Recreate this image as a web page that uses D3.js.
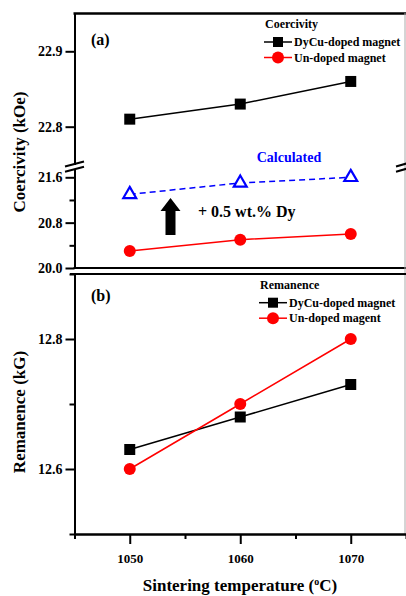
<!DOCTYPE html>
<html>
<head>
<meta charset="utf-8">
<script src="https://cdn.jsdelivr.net/npm/d3@7"></script>
<style>
  body { margin: 0; background: #fff; }
  svg { display: block; font-family: "Liberation Serif", "Times New Roman", serif; font-weight: bold; }
</style>
</head>
<body>
<svg id="canvas"></svg>
<script>
// sintering temperatures (oC)
const temps = [1050, 1060, 1070];

// coercivity (kOe)
const hcDoped = [22.81, 22.83, 22.86];
const hcUndoped = [20.3, 20.5, 20.6];
const hcCalc = [21.3, 21.5, 21.6];

// remanence (kG)
const brDoped = [12.63, 12.68, 12.73];
const brUndoped = [12.6, 12.7, 12.8];

// ticks
const xTicks = [1050, 1060, 1070];
const xMinor = [1045, 1055, 1065, 1075];
const hcTopTicks = [22.8, 22.9];
const hcLowTicks = [20.0, 20.8, 21.6];
const hcLowMinor = [20.4, 21.2];
const brTicks = [12.6, 12.8];
const brMinor = [12.5, 12.7, 12.9];

const legendA = ['DyCu-doped magnet', 'Un-doped magnet'];
const legendB = ['DyCu-doped magnet', 'Un-doped magent'];

const width = 406;
const height = 596;
const left = 74.5;

let canvas = d3.select('#canvas')
  .attr('width', width)
  .attr('height', height);

let xScale = d3.scaleLinear().domain([1045, 1075]).range([left, 406]);
// panel (a) uses a broken axis -> two scales
let yTop = d3.scaleLinear().domain([22.75, 22.95]).range([164.4, 13.6]);
let yLow = d3.scaleLinear().domain([20.0, 21.75]).range([268, 168.8]);
let yB = d3.scaleLinear().domain([12.5, 12.9]).range([534, 274]);

let styleAxis = (g, size) => {
  g.attr('font-family', null).attr('font-size', null);
  g.select('.domain').attr('stroke-width', 2);
  g.selectAll('.tick line').attr('stroke-width', 2);
  g.selectAll('.tick text')
    .attr('font-size', size)
    .attr('font-weight', 'bold')
    .attr('fill', '#000');
};

let drawLeftAxis = (scale, major, minor, fmt) => {
  let gMinor = canvas.append('g')
    .attr('transform', `translate(${left}, 0)`)
    .call(d3.axisLeft(scale).tickValues(minor).tickSize(5).tickSizeOuter(0).tickFormat(''));
  styleAxis(gMinor, 14);
  let gMajor = canvas.append('g')
    .attr('transform', `translate(${left}, 0)`)
    .call(d3.axisLeft(scale).tickValues(major).tickSize(9).tickPadding(3).tickSizeOuter(0).tickFormat(d3.format(fmt)));
  styleAxis(gMajor, 14);
};

let line = (ys, yScale) => d3.line()
  .x((d, i) => xScale(temps[i]))
  .y((d) => yScale(d))(ys);

let drawSquares = (ys, yScale) => {
  canvas.append('g').selectAll('path')
    .data(ys)
    .enter()
    .append('path')
    .attr('d', d3.symbol(d3.symbolSquare).size(121))
    .attr('transform', (d, i) => `translate(${xScale(temps[i])}, ${yScale(d)})`)
    .attr('fill', '#000');
};

let drawCircles = (ys, yScale) => {
  canvas.append('g').selectAll('circle')
    .data(ys)
    .enter()
    .append('circle')
    .attr('cx', (d, i) => xScale(temps[i]))
    .attr('cy', (d) => yScale(d))
    .attr('r', 6)
    .attr('fill', '#ff0000');
};

let drawLegend = (title, labels, x, y0) => {
  canvas.append('text')
    .attr('x', x + 1)
    .attr('y', y0 - 14)
    .attr('font-size', 12)
    .text(title);
  labels.forEach((label, i) => {
    let y = y0 + i * 15.5;
    let color = i === 0 ? '#000' : '#ff0000';
    canvas.append('line')
      .attr('x1', x).attr('x2', x + 28)
      .attr('y1', y).attr('y2', y)
      .attr('stroke', color)
      .attr('stroke-width', 1.5);
    if (i === 0) {
      canvas.append('path')
        .attr('d', d3.symbol(d3.symbolSquare).size(100))
        .attr('transform', `translate(${x + 14}, ${y})`)
        .attr('fill', '#000');
    } else {
      canvas.append('circle')
        .attr('cx', x + 14).attr('cy', y).attr('r', 6)
        .attr('fill', '#ff0000');
    }
    canvas.append('text')
      .attr('x', x + 30)
      .attr('y', y + 4)
      .attr('font-size', 12)
      .text(label);
  });
};

// ---------- panel (a) ----------
drawLeftAxis(yTop, hcTopTicks, [], '.1f');
drawLeftAxis(yLow, hcLowTicks, hcLowMinor, '.1f');

// frame lines
canvas.append('line')
  .attr('x1', left - 1).attr('x2', width)
  .attr('y1', yTop.range()[1]).attr('y2', yTop.range()[1])
  .attr('stroke', '#000').attr('stroke-width', 2.5);
canvas.append('line')
  .attr('x1', left - 1).attr('x2', width)
  .attr('y1', yLow(20.0)).attr('y2', yLow(20.0))
  .attr('stroke', '#000').attr('stroke-width', 2);
canvas.append('line')
  .attr('x1', 405).attr('x2', 405)
  .attr('y1', 13).attr('y2', 534)
  .attr('stroke', '#aaa').attr('stroke-width', 1);

// break marks
let breakY = (yTop.range()[0] + yLow.range()[1]) / 2;
[-2.6, 2.6].forEach((off) => {
  canvas.append('line')
    .attr('x1', 65).attr('x2', 84)
    .attr('y1', breakY + off + 2.5).attr('y2', breakY + off - 2.5)
    .attr('stroke', '#000').attr('stroke-width', 2);
  canvas.append('line')
    .attr('x1', 396).attr('x2', 410)
    .attr('y1', breakY + off + 2.5).attr('y2', breakY + off - 1.5)
    .attr('stroke', '#000').attr('stroke-width', 2);
});

canvas.append('path')
  .attr('d', line(hcDoped, yTop))
  .attr('fill', 'none').attr('stroke', '#000').attr('stroke-width', 1.5);
drawSquares(hcDoped, yTop);

canvas.append('path')
  .attr('d', line(hcUndoped, yLow))
  .attr('fill', 'none').attr('stroke', '#ff0000').attr('stroke-width', 1.5);
drawCircles(hcUndoped, yLow);

canvas.append('path')
  .attr('d', line(hcCalc, yLow))
  .attr('fill', 'none').attr('stroke', '#0000ff').attr('stroke-width', 1.5)
  .attr('stroke-dasharray', '6,4');
canvas.append('g').selectAll('path')
  .data(hcCalc)
  .enter()
  .append('path')
  .attr('d', d3.symbol(d3.symbolTriangle).size(72))
  .attr('transform', (d, i) => `translate(${xScale(temps[i])}, ${yLow(d)})`)
  .attr('fill', '#fff')
  .attr('stroke', '#0000ff')
  .attr('stroke-width', 2.2);

canvas.append('text')
  .attr('x', 289).attr('y', 161.5)
  .attr('text-anchor', 'middle')
  .attr('font-size', 14)
  .attr('fill', '#0000ff')
  .text('Calculated');

// arrow
let ax = 170.5;
canvas.append('path')
  .attr('d', `M${ax},198 L${ax + 10},211 L${ax + 5},211 L${ax + 5},235 L${ax - 5},235 L${ax - 5},211 L${ax - 10},211 Z`)
  .attr('fill', '#000');
canvas.append('text')
  .attr('x', 198).attr('y', 217)
  .attr('font-size', 16)
  .text('+ 0.5 wt.% Dy');

canvas.append('text')
  .attr('x', 91).attr('y', 45)
  .attr('font-size', 16)
  .text('(a)');

drawLegend('Coercivity', legendA, 264, 42);

canvas.append('text')
  .attr('transform', 'translate(25, 152) rotate(-90)')
  .attr('text-anchor', 'middle')
  .attr('font-size', 17)
  .text('Coercivity (kOe)');

// ---------- panel (b) ----------
drawLeftAxis(yB, brTicks, brMinor, '.1f');

canvas.append('line')
  .attr('x1', 70).attr('x2', width)
  .attr('y1', yB(12.9)).attr('y2', yB(12.9))
  .attr('stroke', '#000').attr('stroke-width', 2);

let gxMinor = canvas.append('g')
  .attr('transform', `translate(0, ${yB(12.5)})`)
  .call(d3.axisBottom(xScale).tickValues(xMinor).tickSize(5).tickSizeOuter(0).tickFormat(''));
styleAxis(gxMinor, 13);
let gxMajor = canvas.append('g')
  .attr('transform', `translate(0, ${yB(12.5)})`)
  .call(d3.axisBottom(xScale).tickValues(xTicks).tickSize(10).tickPadding(10).tickSizeOuter(0).tickFormat(d3.format('d')));
styleAxis(gxMajor, 13);

canvas.append('path')
  .attr('d', line(brDoped, yB))
  .attr('fill', 'none').attr('stroke', '#000').attr('stroke-width', 1.5);
canvas.append('path')
  .attr('d', line(brUndoped, yB))
  .attr('fill', 'none').attr('stroke', '#ff0000').attr('stroke-width', 1.5);
drawSquares(brDoped, yB);
drawCircles(brUndoped, yB);

canvas.append('text')
  .attr('x', 91).attr('y', 301)
  .attr('font-size', 16)
  .text('(b)');

drawLegend('Remanence', legendB, 259, 302.7);

canvas.append('text')
  .attr('transform', 'translate(25, 412) rotate(-90)')
  .attr('text-anchor', 'middle')
  .attr('font-size', 17)
  .text('Remanence (kG)');

let xTitle = canvas.append('text')
  .attr('x', 240).attr('y', 591)
  .attr('text-anchor', 'middle')
  .attr('font-size', 17);
xTitle.append('tspan').text('Sintering temperature (');
xTitle.append('tspan').attr('font-size', 10).attr('dy', -6).text('o');
xTitle.append('tspan').attr('dy', 6).text('C)');
</script>
</body>
</html>
